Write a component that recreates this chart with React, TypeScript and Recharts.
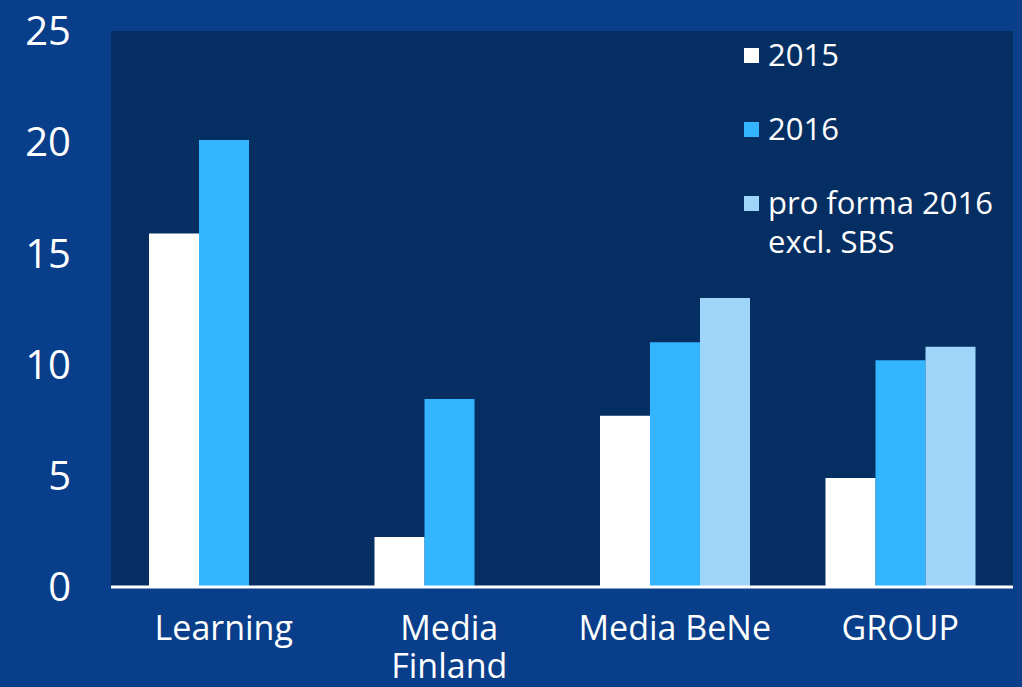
import React from 'react'
import { BarChart, Bar, XAxis, YAxis, CartesianGrid } from 'recharts'

const categories = ['Learning', 'Media\nFinland', 'Media BeNe', 'GROUP']
const values2015 = [15.9, 2.25, 7.7, 4.9]
const values2016 = [20.1, 8.45, 11.0, 10.2]
const valuesProForma: (number | null)[] = [null, null, 13.0, 10.8]
const yTicks = [0, 5, 10, 15, 20, 25]

const legendItems = [
  { key: 'y2015', label: ['2015'], color: '#ffffff' },
  { key: 'y2016', label: ['2016'], color: '#33b5ff' },
  { key: 'proForma', label: ['pro forma 2016', 'excl. SBS'], color: '#9fd5f9' },
]

const data = categories.map((name, i) => ({
  name,
  y2015: values2015[i],
  y2016: values2016[i],
  proForma: valuesProForma[i],
}))

const FONT = '"Open Sans", Lato, sans-serif'

function CategoryTick({ x, y, payload }: any) {
  const lines = String(payload.value).split('\n')
  return (
    <text x={x} y={y} textAnchor="middle" fill="#ffffff" fontSize={34} fontFamily={FONT}>
      {lines.map((line, i) => (
        <tspan key={i} x={x} dy={i === 0 ? 53 : 38}>
          {line}
        </tspan>
      ))}
    </text>
  )
}

function LegendBox() {
  return (
    <div
      style={{
        position: 'absolute',
        left: 744,
        top: 35,
        fontFamily: FONT,
        color: '#ffffff',
        fontSize: 31,
        lineHeight: '39px',
      }}
    >
      {legendItems.map((item, i) => (
        <div key={item.key} style={{ display: 'flex', alignItems: 'flex-start', marginBottom: i < 2 ? 35 : 0 }}>
          <span
            style={{
              width: 15,
              height: 15,
              background: item.color,
              marginTop: 13,
              marginRight: 9,
              flexShrink: 0,
            }}
          />
          <span>
            {item.label.map(l => (
              <div key={l}>{l}</div>
            ))}
          </span>
        </div>
      ))}
    </div>
  )
}

export default function App() {
  return (
    <div style={{ position: 'fixed', left: 0, top: 0, width: 1022, height: 687, background: '#083e8a' }}>
      <BarChart
        width={1022}
        height={687}
        data={data}
        margin={{ top: 31, right: 9, left: 0, bottom: 0 }}
        barGap={0}
        barSize={50}
      >
        <CartesianGrid horizontal={false} vertical={false} fill="#052e63" stroke="none" />
        <XAxis
          dataKey="name"
          height={100}
          interval={0}
          tickLine={false}
          tickSize={0}
          tickMargin={0}
          axisLine={{ stroke: '#ffffff', strokeWidth: 3 }}
          tick={<CategoryTick />}
        />
        <YAxis
          width={111}
          domain={[0, 25]}
          ticks={yTicks}
          axisLine={false}
          tickLine={false}
          tickSize={0}
          tickMargin={40}
          tick={{ fill: '#ffffff', fontSize: 40, fontFamily: FONT }}
        />
        <Bar dataKey="y2015" fill="#ffffff" isAnimationActive={false} />
        <Bar dataKey="y2016" fill="#33b5ff" isAnimationActive={false} />
        <Bar dataKey="proForma" fill="#9fd5f9" isAnimationActive={false} />
      </BarChart>
      <LegendBox />
    </div>
  )
}
